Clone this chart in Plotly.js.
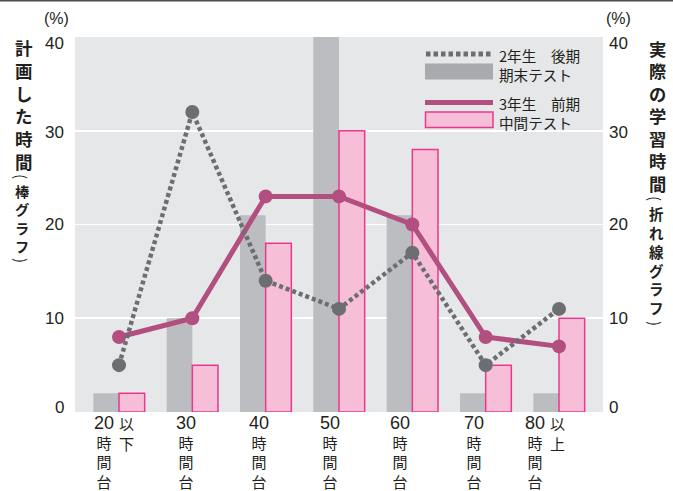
<!DOCTYPE html>
<html><head><meta charset="utf-8">
<script src="https://cdn.plot.ly/plotly-3.0.1.min.js"></script>
<style>html,body{margin:0;padding:0;background:#fff}#chart{width:673px;height:491px}</style>
</head><body><div id="chart"></div>
<script>
// ---- data ----
const categories = ['20以下','30','40','50','60','70','80以上'];
const tickNumbers = ['20','30','40','50','60','70','80'];
const tickSuffixes = ['以下','','','','','','以上'];
const tickUnit = '時間台';
const plannedGrade2End = [2,10,21,40,21,2,2];   // 2年生 後期 期末テスト (bars)
const plannedGrade3Mid = [2,5,18,30,28,5,10];   // 3年生 前期 中間テスト (bars)
const actualGrade2End = [5,32,14,11,17,5,11];   // 2年生 後期 期末テスト (line)
const actualGrade3Mid = [8,10,23,23,20,8,7];    // 3年生 前期 中間テスト (line)
const yTicks = [0,10,20,30,40];
const leftTitle = '計画した時間';
const leftSub = '棒グラフ';
const rightTitle = '実際の学習時間';
const rightSub = '折れ線グラフ';
const legendLabels = ['2年生\u3000後期','期末テスト','3年生\u3000前期','中間テスト'];
const unitLabel = '(%)';

// ---- geometry helpers (pixels -> paper) ----
const L = 75, R = 603, T = 37, B = 412;
const PX = p => (p - L) / (R - L);
const PY = p => (B - p) / (B - T);
const TXT = '#231f20';
const CJK = 'Noto Sans CJK JP, Noto Sans, sans-serif';
const NUM = 'Liberation Sans, Arial, sans-serif';
const vert = s => Array.from(s).join('<br>');

const annotations = [];
function addText(text, xpx, ypx, font, opts) {
  annotations.push(Object.assign({
    xref: 'paper', yref: 'paper', x: PX(xpx), y: PY(ypx),
    xanchor: 'center', yanchor: 'middle', showarrow: false, text: text, font: font
  }, opts || {}));
}
const titleFont = s => ({family: CJK, size: s, color: TXT, weight: 700});
const parenFont = {family: CJK, size: 15, color: TXT};

// axis titles (vertical stacks)
addText(vert(leftTitle), 24, 47.5 + 2.5 * 22.75, titleFont(17.5));
addText('(', 22, 176, parenFont, {textangle: 90});
addText(vert(leftSub), 22, 191 + 1.5 * 18.5, titleFont(14.2));
addText(')', 22, 260, parenFont, {textangle: 90});

addText(vert(rightTitle), 657, 48 + 3 * 22.5, titleFont(17.3));
addText('(', 656, 198, parenFont, {textangle: 90});
addText(vert(rightSub), 656, 213 + 2.5 * 18.8, titleFont(14.5));
addText(')', 656, 323, parenFont, {textangle: 90});

// unit labels
addText(unitLabel, 56, 19, {family: NUM, size: 16, color: TXT});
addText(unitLabel, 618, 19, {family: NUM, size: 16, color: TXT});

// y tick labels (both sides share the 0-40 scale)
const tickNudge = [5, 0, 0, -2, -6];   // pixels up
yTicks.forEach((v, k) => {
  const f = {family: NUM, size: 17, color: TXT};
  annotations.push({xref: 'paper', yref: 'y', x: PX(66), y: v, yshift: tickNudge[k], xanchor: 'right',
    yanchor: 'middle', showarrow: false, text: String(v), font: f});
  annotations.push({xref: 'paper', yref: 'y', x: PX(607), y: v, yshift: tickNudge[k], xanchor: 'left',
    yanchor: 'middle', showarrow: false, text: String(v), font: f});
});

// x tick labels, vertical columns
const colShift = [-15, -6, -7, -9, -12, -12, -24];
const sufShift = [7, 0, 0, 0, 0, 0, -2];
const row0 = 423.5, pitch = 19.5;
tickNumbers.forEach((num, i) => {
  const txt = '<span style="font-family:Liberation Sans;font-size:18px">' + num + '</span><br>' + vert(tickUnit);
  annotations.push({xref: 'x', yref: 'paper', x: i, y: 0, xshift: colShift[i], yshift: -(row0 + 1.5 * pitch - B),
    xanchor: 'center', yanchor: 'middle', showarrow: false, text: txt,
    font: {family: CJK, size: 15, color: TXT}});
  const suf = Array.from(tickSuffixes[i]);
  if (suf.length) {
    annotations.push({xref: 'x', yref: 'paper', x: i, y: 0, xshift: sufShift[i],
      yshift: -(row0 + (suf.length - 1) / 2 * pitch - B),
      xanchor: 'center', yanchor: 'middle', showarrow: false, text: vert(tickSuffixes[i]),
      font: {family: CJK, size: 15, color: TXT}});
  }
});

// legend text (two lines per entry)
addText(legendLabels[0] + '<br>' + legendLabels[1], 497, 65, {family: CJK, size: 14.6, color: TXT}, {xanchor: 'left', align: 'left'});
addText(legendLabels[2] + '<br>' + legendLabels[3], 497, 113, {family: CJK, size: 14.6, color: TXT}, {xanchor: 'left', align: 'left'});

// legend swatches + top rule
const shapes = [
  {type: 'line', xref: 'paper', yref: 'paper', x0: PX(0), x1: PX(673), y0: PY(0.8), y1: PY(0.8),
   line: {color: '#4d4d4f', width: 1.6}},
  {type: 'line', xref: 'paper', yref: 'paper', x0: PX(426), x1: PX(493), y0: PY(54), y1: PY(54),
   line: {color: '#6d6e71', width: 5, dash: '4.5px,3px'}},
  {type: 'rect', xref: 'paper', yref: 'paper', x0: PX(425), x1: PX(493), y0: PY(63.5), y1: PY(79.5),
   fillcolor: '#a9aaad', line: {width: 0}},
  {type: 'line', xref: 'paper', yref: 'paper', x0: PX(425), x1: PX(493), y0: PY(102.5), y1: PY(102.5),
   line: {color: '#b24f80', width: 5}},
  {type: 'rect', xref: 'paper', yref: 'paper', x0: PX(425.5), x1: PX(493), y0: PY(112), y1: PY(127.5),
   fillcolor: '#f6bfd7', line: {color: '#e9388f', width: 1.5}}
];

const traces = [
  {type: 'bar', x: categories, y: plannedGrade2End, offset: -0.35, width: 0.35,
   marker: {color: '#bcbdc0', line: {width: 0}}, hoverinfo: 'skip'},
  {type: 'bar', x: categories, y: plannedGrade3Mid, offset: 0, width: 0.35,
   marker: {color: '#f6bfd7', line: {color: '#e9388f', width: 1.5}}, hoverinfo: 'skip'},
  {type: 'scatter', mode: 'lines+markers', x: categories, y: actualGrade3Mid, yaxis: 'y2',
   line: {color: '#b24f80', width: 5}, marker: {color: '#b24f80', size: 14}, cliponaxis: false},
  {type: 'scatter', mode: 'lines+markers', x: categories, y: actualGrade2End, yaxis: 'y2',
   line: {color: '#6d6e71', width: 4.5, dash: '4px,3px'}, marker: {color: '#6d6e71', size: 14}, cliponaxis: false}
];

const layout = {
  width: 673, height: 491,
  margin: {l: L, r: 673 - R, t: T, b: 491 - B, pad: 0},
  paper_bgcolor: '#ffffff', plot_bgcolor: '#e6e7e8',
  showlegend: false, barmode: 'overlay',
  xaxis: {type: 'category', range: [-0.6, 6.6], showticklabels: false, showgrid: false,
          zeroline: false, showline: false, ticks: ''},
  yaxis: {range: [0, 40], tickvals: yTicks, ticks: '', showticklabels: false, showgrid: true,
          gridcolor: '#ffffff', gridwidth: 1.6, zeroline: false, showline: false},
  yaxis2: {range: [0, 40], tickvals: yTicks, overlaying: 'y', side: 'right', ticks: '', showgrid: false,
           showticklabels: false, zeroline: false, showline: false},
  annotations: annotations, shapes: shapes
};

Plotly.newPlot('chart', traces, layout, {staticPlot: true, displayModeBar: false});
</script>
</body></html>
